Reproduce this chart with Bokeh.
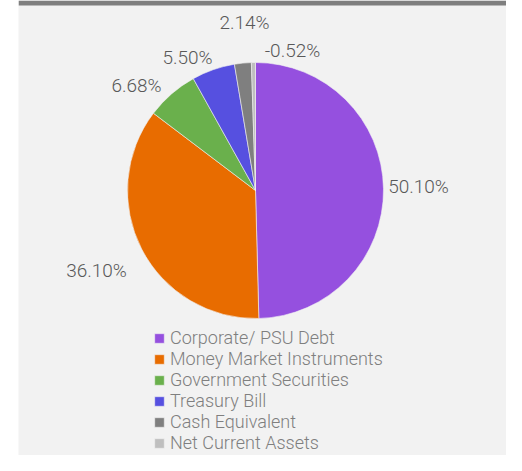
import math
from bokeh.plotting import figure
from bokeh.models import ColumnDataSource, Range1d, Legend, LegendItem, BoxAnnotation
from bokeh.core.properties import value
from bokeh.embed import file_html
from bokeh.resources import INLINE

# ---- data ----
categories = ["Corporate/ PSU Debt", "Money Market Instruments", "Government Securities",
              "Treasury Bill", "Cash Equivalent", "Net Current Assets"]
values = [50.10, 36.10, 6.68, 5.50, 2.14, -0.52]
labels = ["50.10%", "36.10%", "6.68%", "5.50%", "2.14%", "-0.52%"]
colors = ["#9550DF", "#E86C00", "#6AB04C", "#5650E0", "#7F7F7F", "#BFBFBF"]

# ---- layout constants (reference pixel space, y measured from top) ----
H = 471
CX, CY, R = 255, 190, 128
# label centre offsets relative to the pie centre (dx, dy), y downward
label_offsets = [(163, -4), (-159, 80), (-119, -105), (-68, -133), (-11, -168), (37, -140)]
FONT = "'Roboto Light', Roboto, sans-serif"

total = sum(abs(v) for v in values)
starts, ends = [], []
cum = 0.0
for v in values:
    a0 = cum / total * 2 * math.pi
    cum += abs(v)
    a1 = cum / total * 2 * math.pi
    starts.append(math.pi / 2 - a1)
    ends.append(math.pi / 2 - a0)

def ty(y):
    return H - y

src = ColumnDataSource(dict(cat=categories, val=values, start=starts, end=ends, color=colors))

p = figure(width=506, height=455, output_backend="svg", toolbar_location=None,
           x_range=Range1d(18, 506), y_range=Range1d(ty(455), ty(0)),
           min_border_left=18, min_border_right=0, min_border_top=0, min_border_bottom=0)
p.axis.visible = False
p.grid.visible = False
p.outline_line_color = None
p.background_fill_color = "#F2F2F2"
p.border_fill_color = "white"

p.add_layout(BoxAnnotation(top=ty(0), bottom=ty(5), fill_color="#7F7F7F", fill_alpha=1,
                           line_color=None))

r = p.wedge(x=CX, y=ty(CY), radius=R, start_angle="start", end_angle="end",
            direction="anticlock", fill_color="color", line_color="#F2F2F2",
            line_width=0.6, source=src)

lx = [CX + dx for dx, dy in label_offsets]
ly = [ty(CY + dy) for dx, dy in label_offsets]
p.text(x=lx, y=ly, text=labels, text_align="center", text_baseline="middle",
       text_font=value(FONT), text_font_size="19px", text_color="#595959")

items = [LegendItem(label=c, renderers=[r], index=i) for i, c in enumerate(categories)]
leg = Legend(items=items, location=(135, 2), orientation="vertical",
             glyph_width=12, glyph_height=12, label_height=18, spacing=0,
             label_standoff=5, padding=0, margin=0,
             label_text_font=FONT, label_text_font_size="18px", label_text_color="#7F7F7F",
             background_fill_alpha=0, border_line_alpha=0)
p.add_layout(leg, "center")

open("out.html", "w").write(file_html(p, INLINE))
